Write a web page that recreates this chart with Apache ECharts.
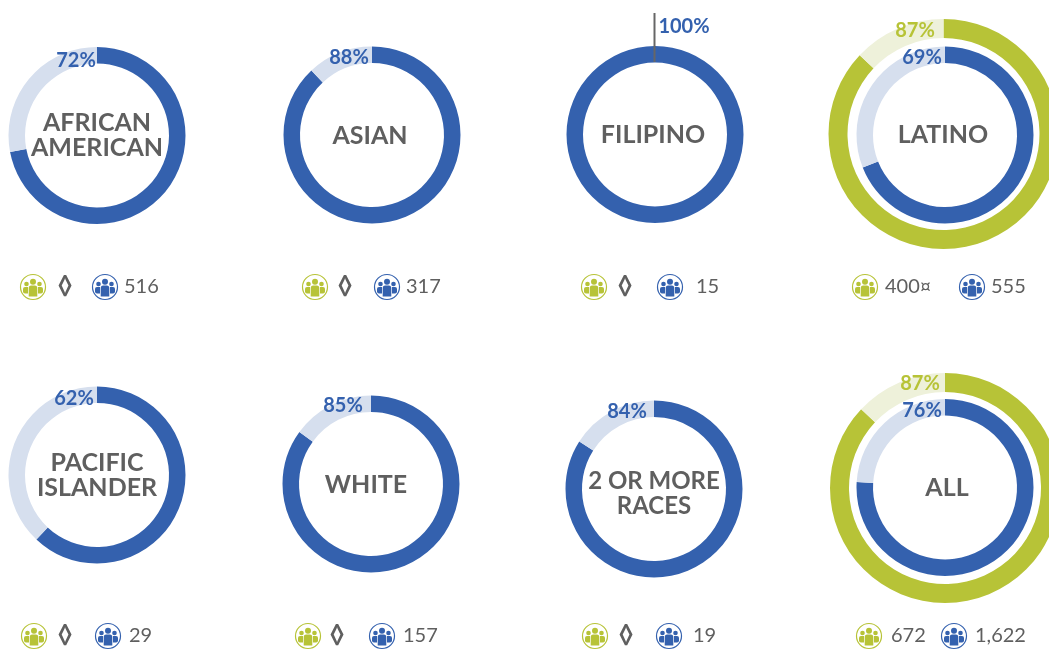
<!DOCTYPE html>
<html><head><meta charset="utf-8">
<style>html,body{margin:0;padding:0;background:#fff}#c{width:1049px;height:650px}</style>
<script src="https://cdn.jsdelivr.net/npm/echarts@6/dist/echarts.min.js"></script>
</head><body><div id="c"></div>
<script>
// ---- data ----
const groupNames = [["AFRICAN","AMERICAN"],["ASIAN"],["FILIPINO"],["LATINO"],["PACIFIC","ISLANDER"],["WHITE"],["2 OR MORE","RACES"],["ALL"]];
const bluePercent = [72,88,100,69,62,85,84,76];
const greenPercent = [null,null,null,87,null,null,null,87];
const greenCounts = ["◊","◊","◊","400¤","◊","◊","◊","672"];
const blueCounts = ["516","317","15","555","29","157","19","1,622"];

// ---- layout (px) ----
const centers = [[97,135.5],[372,135],[655,134.5],[945,135],[97,475],[371,484],[654,489],[945,487.5]];
const outerCenters = [null,null,null,[943.5,134],null,null,null,[945,488]];
const nameYs = [[123,148],[136],[135],[135],[463,488],[485],[481,506],[488]];
const nameXs = [97,370,653,943,97,366,654,947];
const bluePctPos = [[76,61],[349,58],[679,27],[922,58],[74,399],[343,406],[627,412],[922,411]];
const greenPctPos = [null,null,null,[915,31],null,null,null,[920,384]];
const greenIcon = [[33,287],[315,287],[594,287],[865,287],[34,636],[308,636],[595,636],[869,636]];
const blueIcon = [[105,287],[387,287],[670,287],[972,287],[108,636],[382,636],[669,636],[954,636]];
const greenCountX = [65,345,625,885,65,337,626,891];
const blueCountX = [124,406,696,991,129,403,693,975];

// ---- style ----
const BLUE="#3461ae", BLUE_L="#d6dfee", GREEN="#b7c337", GREEN_L="#eef1da", GRAY="#5f5f5f";
const FONT='Lato, "Open Sans", sans-serif';

function ring(center,r0,r1,value,c,cl){
  return {type:'pie',silent:true,animation:false,center:center,radius:[r0,r1],startAngle:90,clockwise:true,
    label:{show:false},labelLine:{show:false},
    data:[{value:value,itemStyle:{color:c}},{value:100-value,itemStyle:{color:cl}}]};
}
const series=[]; const graphic=[];
function txt(x,y,t,size,color,weight,align){
  graphic.push({type:'text',x:x,y:y,z:100,silent:true,style:{text:t,font:`${weight} ${size}px ${FONT}`,fill:color,align:align||'center',verticalAlign:'middle'}});
}
function icon(p,c){
  const kids=[{type:'circle',shape:{cx:0,cy:0,r:12.5},style:{fill:'#fff',stroke:c,lineWidth:1.2}}];
  [[-6.5,-3,2.3],[6.5,-3,2.3],[0,-5.2,3]].forEach(h=>kids.push({type:'circle',shape:{cx:h[0],cy:h[1],r:h[2]},style:{fill:c}}));
  kids.push({type:'rect',shape:{x:-10,y:0,width:5,height:6.5,r:[2,0,0,2]},style:{fill:c}});
  kids.push({type:'rect',shape:{x:5,y:0,width:5,height:6.5,r:[0,2,2,0]},style:{fill:c}});
  kids.push({type:'rect',shape:{x:-4.3,y:-1.5,width:8.6,height:11,r:[2.5,2.5,0,0]},style:{fill:c}});
  graphic.push({type:'group',x:p[0],y:p[1],z:100,silent:true,children:kids.map(k=>Object.assign(k,{z:100}))});
}
groupNames.forEach((name,i)=>{
  if(greenPercent[i]!==null){ series.push(ring(outerCenters[i],96,115,greenPercent[i],GREEN,GREEN_L)); }
  series.push(ring(centers[i],72,88.5,bluePercent[i],BLUE,BLUE_L));
  name.forEach((ln,j)=>txt(nameXs[i],nameYs[i][j],ln,name[0]==="2 OR MORE"?24:25,GRAY,700));
  if(greenPercent[i]!==null) txt(greenPctPos[i][0],greenPctPos[i][1],greenPercent[i]+'%',20,GREEN,700);
  txt(bluePctPos[i][0]+(bluePercent[i]===100?5:0),bluePctPos[i][1],bluePercent[i]+'%',20,BLUE,700);
  icon(greenIcon[i],GREEN); icon(blueIcon[i],BLUE);
  const isDiamond=greenCounts[i]==='◊';
  txt(greenCountX[i],greenIcon[i][1],greenCounts[i],isDiamond?26:20,GRAY,isDiamond?700:400,isDiamond?'center':'left');
  txt(blueCountX[i],blueIcon[i][1],blueCounts[i],20,GRAY,400,'left');
});
graphic.push({type:'line',z:100,silent:true,shape:{x1:654.5,y1:13,x2:654.5,y2:62},style:{stroke:'#666',lineWidth:2}});

const chart=echarts.init(document.getElementById('c'),null,{renderer:'canvas'});
chart.setOption({animation:false,backgroundColor:'#fff',series:series,graphic:{elements:graphic}});
</script></body></html>
